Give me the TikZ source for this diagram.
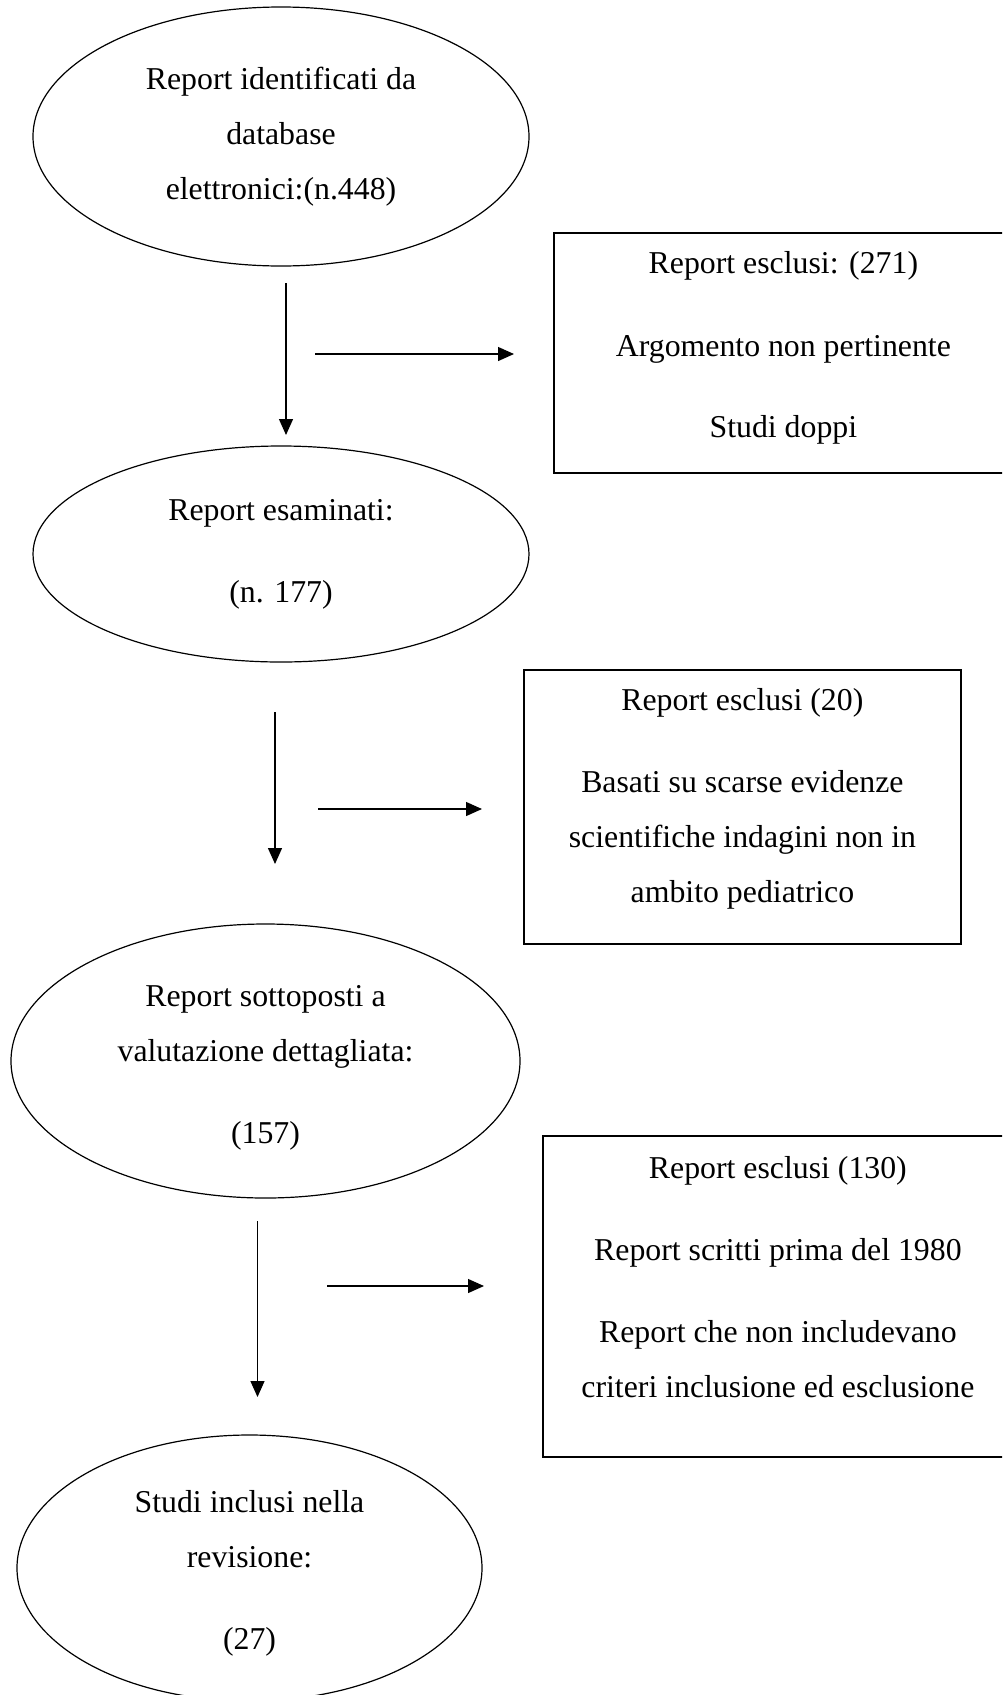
\documentclass[tikz,border=0pt]{standalone}
\usepackage{fontspec}
\setmainfont{Liberation Serif}
\usetikzlibrary{shapes.geometric,arrows.meta}
\tikzset{
  txt/.style={font=\fontsize{31.8}{55}\selectfont},
  oval/.style={ellipse, draw, line width=1.2pt, inner sep=0pt, align=center, txt},
  exbox/.style={rectangle, draw, line width=1.8pt, inner sep=0pt, txt},
  flow/.style={line width=1.3pt, -{Triangle[length=16pt,width=14pt]}}
}
\begin{document}
\begin{tikzpicture}[x=1pt,y=-1pt]
\useasboundingbox (0,0) rectangle (1002,1695);
\clip (0,0) rectangle (1002,1695);
\fill[white] (0,0) rectangle (1002,1695);

% ellipses
\node[oval, minimum width=496pt, minimum height=259pt] (e1) at (281,136.5)
  {Report identificati da\\ database\\ elettronici:(n.448)};
\node[oval, minimum width=496pt, minimum height=216pt] (e2) at (281,554)
  {Report esaminati:\\[27pt] (n. 177)};
\node[oval, minimum width=509pt, minimum height=274pt] (e3) at (265.5,1061)
  {\rule{0pt}{34pt}Report sottoposti a\\ valutazione dettagliata:\\[27pt] (157)};
\node[oval, minimum width=465pt, minimum height=266pt] (e4) at (249.5,1568)
  {\rule{0pt}{33pt}Studi inclusi nella\\ revisione:\\[27pt] (27)};

% boxes
\node[exbox, anchor=north west] (b1) at (553,232)
  {\begin{minipage}[c][240pt][t]{459pt}\centering
   \rule{0pt}{41pt}Report esclusi: (271)\\[28pt]
   Argomento non pertinente\\[26pt]
   Studi doppi\end{minipage}};
\node[exbox, anchor=north west] (b2) at (523,669)
  {\begin{minipage}[c][274pt][t]{437pt}\centering
   \rule{0pt}{41pt}Report esclusi (20)\\[27pt]
   Basati su scarse evidenze\\
   scientifiche indagini non in\\
   ambito pediatrico\end{minipage}};
\node[exbox, anchor=north west] (b3) at (542,1135)
  {\begin{minipage}[c][321pt][t]{470pt}\centering
   \rule{0pt}{43pt}Report esclusi (130)\\[27pt]
   Report scritti prima del 1980\\[27pt]
   Report che non includevano\\
   criteri inclusione ed esclusione\end{minipage}};

% connector end points
\coordinate (v1s) at (286,283);   \coordinate (v1e) at (286,435);
\coordinate (h1s) at (315,354);   \coordinate (h1e) at (514,354);
\coordinate (v2s) at (275,712);   \coordinate (v2e) at (275,864);
\coordinate (h2s) at (318,809);   \coordinate (h2e) at (482,809);
\coordinate (v3s) at (257.5,1221); \coordinate (v3e) at (257.5,1397);
\coordinate (h3s) at (327,1286);  \coordinate (h3e) at (484,1286);

\draw[flow] (v1s) -- (v1e);
\draw[flow] (h1s) -- (h1e);
\draw[flow] (v2s) -- (v2e);
\draw[flow] (h2s) -- (h2e);
\draw[flow] (v3s) -- (v3e);
\draw[flow] (h3s) -- (h3e);
\end{tikzpicture}
\end{document}
